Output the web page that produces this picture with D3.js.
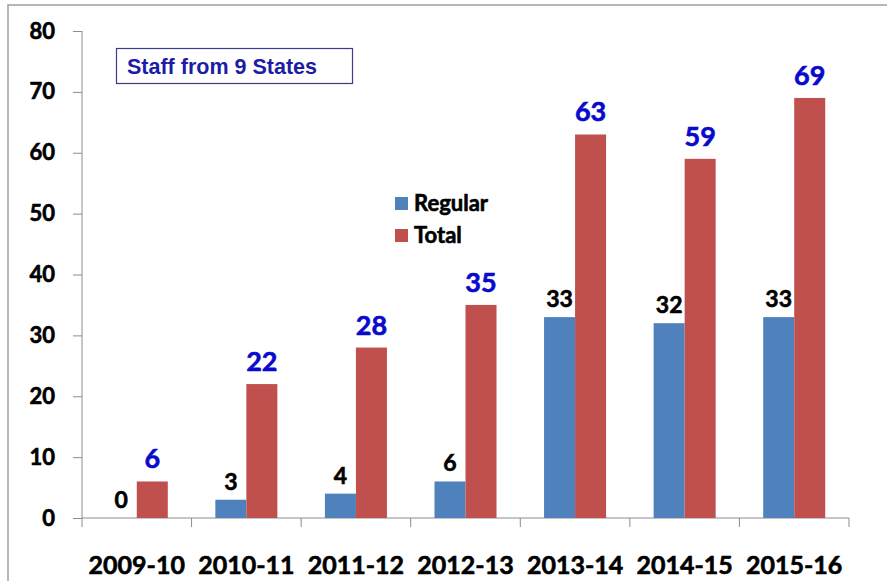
<!DOCTYPE html>
<html>
<head>
<meta charset="utf-8">
<script src="https://cdn.jsdelivr.net/npm/d3@7"></script>
<style>
  body { margin: 0; background: #fff; }
  svg { display: block; }
  .num { font-family: Lato, "Open Sans", sans-serif; font-weight: bold; stroke-width: 0.6px; }
</style>
</head>
<body>
<svg id="chart" width="887" height="581"></svg>
<script>
let years = ['2009-10', '2010-11', '2011-12', '2012-13', '2013-14', '2014-15', '2015-16'];
let series = ['Regular', 'Total'];
let regular = [0, 3, 4, 6, 33, 32, 33];
let total = [6, 22, 28, 35, 63, 59, 69];
let yTicks = [0, 10, 20, 30, 40, 50, 60, 70, 80];
let colors = { Regular: '#4f81bd', Total: '#c0504d' };

let svg = d3.select('#chart');

// outer frame (top and left edges are visible)
svg.append('path')
  .attr('d', 'M8,581V5H887')
  .attr('fill', 'none')
  .attr('stroke', '#a0a0a0')
  .attr('stroke-width', 1.5);

let y = d3.scaleLinear().domain([0, 80]).range([518, 31]);
let x0 = d3.scaleBand().domain(years).range([82, 849])
  .paddingInner(0.434).paddingOuter(0.217);
let x1 = d3.scaleBand().domain(series).range([0, x0.bandwidth()]);
let step = x0.step();

// y axis
let yAxis = svg.append('g').attr('transform', 'translate(82,0)')
  .call(d3.axisLeft(y).tickValues(yTicks).tickSize(9).tickPadding(18));
yAxis.select('.domain').attr('stroke', '#8c8c8c').attr('d', 'M0,' + y(80) + 'V' + y(0));
yAxis.selectAll('.tick line').attr('stroke', '#8c8c8c');
yAxis.selectAll('.tick text')
  .attr('class', 'num')
  .attr('font-size', 22)
  .attr('fill', '#000')
  .attr('stroke', '#000');

// x axis with ticks on category boundaries
let xg = svg.append('g');
xg.append('line')
  .attr('x1', 82).attr('x2', 849)
  .attr('y1', y(0)).attr('y2', y(0))
  .attr('stroke', '#8c8c8c');
xg.selectAll('line.tk')
  .data(d3.range(years.length + 1))
  .join('line')
  .attr('class', 'tk')
  .attr('x1', i => 82 + i * step).attr('x2', i => 82 + i * step)
  .attr('y1', y(0)).attr('y2', y(0) + 9)
  .attr('stroke', '#8c8c8c');
xg.selectAll('text')
  .data(years)
  .join('text')
  .attr('class', 'num')
  .attr('x', d => x0(d) + x0.bandwidth() / 2)
  .attr('y', 574)
  .attr('text-anchor', 'middle')
  .attr('font-size', 25)
  .attr('fill', '#000')
  .attr('stroke', '#000')
  .text(d => d);

// bars
let rows = years.map((yr, i) => ({ year: yr, Regular: regular[i], Total: total[i] }));
let groups = svg.append('g').selectAll('g')
  .data(rows)
  .join('g')
  .attr('transform', d => 'translate(' + x0(d.year) + ',0)');

groups.selectAll('rect')
  .data(d => series.map(s => ({ key: s, value: d[s] })))
  .join('rect')
  .attr('x', d => x1(d.key))
  .attr('y', d => y(d.value))
  .attr('width', x1.bandwidth())
  .attr('height', d => y(0) - y(d.value))
  .attr('fill', d => colors[d.key]);

groups.selectAll('text')
  .data(d => series.map(s => ({ key: s, value: d[s] })))
  .join('text')
  .attr('class', 'num')
  .attr('x', d => x1(d.key) + x1.bandwidth() / 2)
  .attr('y', d => y(d.value) - (d.key === 'Total' ? 13 : 10))
  .attr('text-anchor', 'middle')
  .attr('font-size', d => d.key === 'Total' ? 27 : 23)
  .attr('fill', d => d.key === 'Total' ? '#0a0acc' : '#000')
  .attr('stroke', d => d.key === 'Total' ? '#0a0acc' : '#000')
  .text(d => d.value);

// legend
let legend = svg.append('g').selectAll('g')
  .data(series)
  .join('g')
  .attr('transform', (d, i) => 'translate(395,' + (197 + i * 32) + ')');
legend.append('rect')
  .attr('width', 13).attr('height', 13)
  .attr('fill', d => colors[d]);
legend.append('text')
  .attr('class', 'num')
  .attr('x', 19).attr('y', 14)
  .attr('font-size', 22)
  .attr('fill', '#000')
  .attr('stroke', '#000')
  .text(d => d);

// title box
svg.append('rect')
  .attr('x', 116.5).attr('y', 48.5)
  .attr('width', 236).attr('height', 35)
  .attr('fill', '#fff')
  .attr('stroke', '#3b3b8f')
  .attr('stroke-width', 1.2);
svg.append('text')
  .attr('x', 127).attr('y', 74)
  .attr('font-family', '"Liberation Sans", Arial, sans-serif')
  .attr('font-weight', 'bold')
  .attr('font-size', 21.5)
  .attr('fill', '#1c1ca6')
  .text('Staff from 9 States');
</script>
</body>
</html>
